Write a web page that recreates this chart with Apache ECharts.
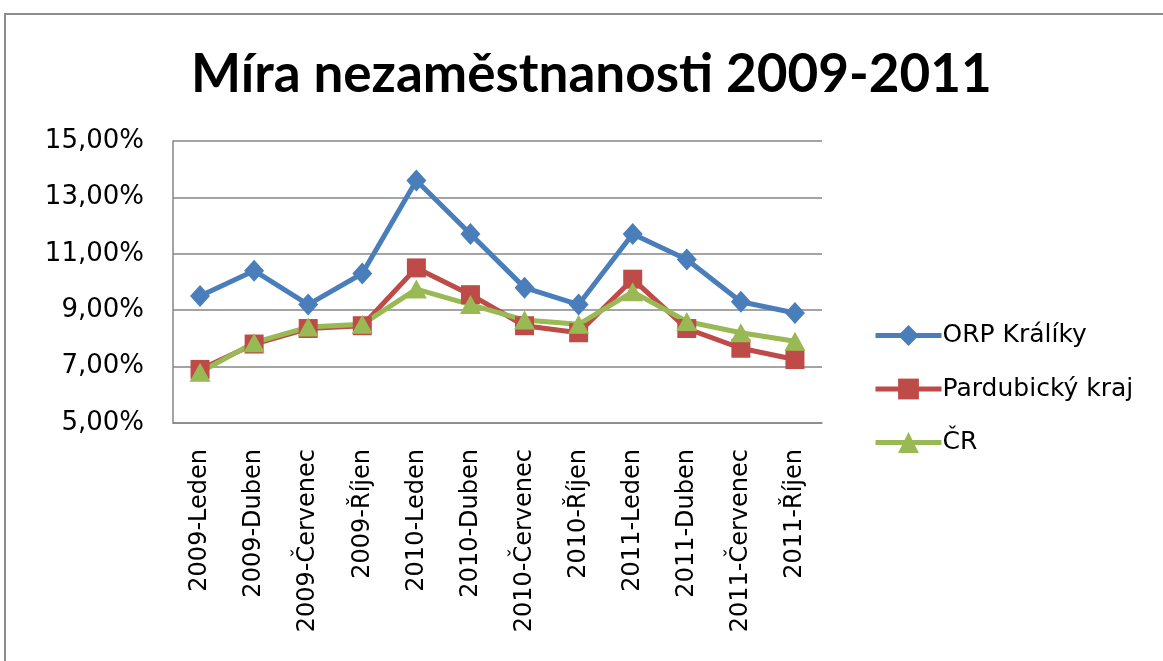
<!DOCTYPE html>
<html>
<head>
<meta charset="utf-8">
<script src="https://cdn.jsdelivr.net/npm/echarts@6/dist/echarts.min.js"></script>
<style>
  html, body { margin: 0; padding: 0; background: #fff; }
  #chart { width: 1163px; height: 661px; }
</style>
</head>
<body>
<div id="chart"></div>
<script>
const categories = ['2009-Leden', '2009-Duben', '2009-Červenec', '2009-Říjen',
    '2010-Leden', '2010-Duben', '2010-Červenec', '2010-Říjen',
    '2011-Leden', '2011-Duben', '2011-Červenec', '2011-Říjen'];
const orpKraliky = [9.5, 10.4, 9.2, 10.3, 13.6, 11.7, 9.8, 9.2, 11.7, 10.8, 9.3, 8.9];
const pardubickyKraj = [6.9, 7.8, 8.35, 8.45, 10.5, 9.55, 8.45, 8.2, 10.1, 8.35, 7.65, 7.25];
const cr = [6.8, 7.85, 8.4, 8.5, 9.75, 9.2, 8.65, 8.5, 9.65, 8.6, 8.2, 7.9];

const chart = echarts.init(document.getElementById('chart'));
const lbl = 'DejaVu Sans';

const option = {
    animation: false,
    title: {
        text: 'Míra nezaměstnanosti 2009-2011',
        left: 186,
        top: 43,
        textStyle: { fontFamily: 'Lato', fontWeight: 'bold', fontSize: 53, color: '#000' }
    },
    graphic: [{
        type: 'rect',
        shape: { x: 5, y: 14, width: 1200, height: 700 },
        style: { fill: 'none', stroke: '#8c8c8c', lineWidth: 2 }
    }],
    legend: {
        orient: 'vertical',
        left: 868,
        top: 318,
        itemWidth: 66,
        itemHeight: 26,
        itemGap: 28.5,
        lineStyle: { width: 5 },
        textStyle: { fontFamily: lbl, fontSize: 25, color: '#000', padding: [0, 0, 0, -4] },
        data: ['ORP Králíky', 'Pardubický kraj', 'ČR']
    },
    grid: { left: 173, right: 341, top: 141, bottom: 238 },
    xAxis: {
        type: 'category',
        data: categories,
        axisLine: { lineStyle: { color: '#868686', width: 1.5 } },
        axisTick: { show: false },
        axisLabel: { rotate: 90, margin: 26, fontFamily: lbl, fontSize: 24, color: '#000', interval: 0 }
    },
    yAxis: {
        type: 'value',
        min: 5,
        max: 15,
        interval: 2,
        axisLine: { show: true, lineStyle: { color: '#868686', width: 1.5 } },
        axisTick: { show: false },
        splitLine: { lineStyle: { color: '#868686', width: 1.5 } },
        axisLabel: {
            margin: 29, fontFamily: lbl, fontSize: 26, color: '#000',
            formatter: v => v.toFixed(2).replace('.', ',') + '%'
        }
    },
    series: [
        {
            name: 'ORP Králíky', type: 'line', data: orpKraliky,
            symbol: 'diamond', symbolSize: [20, 22],
            lineStyle: { width: 5, color: '#4a7ebb' },
            itemStyle: { color: '#4a7ebb' }
        },
        {
            name: 'Pardubický kraj', type: 'line', data: pardubickyKraj,
            symbol: 'rect', symbolSize: 19,
            lineStyle: { width: 5, color: '#be4b48' },
            itemStyle: { color: '#be4b48' }
        },
        {
            name: 'ČR', type: 'line', data: cr,
            symbol: 'triangle', symbolSize: [21, 19],
            lineStyle: { width: 5, color: '#98b954' },
            itemStyle: { color: '#98b954' }
        }
    ]
};
chart.setOption(option);
</script>
</body>
</html>
